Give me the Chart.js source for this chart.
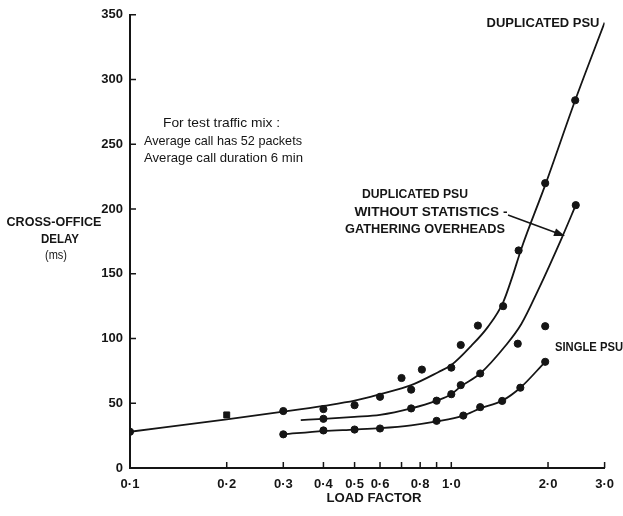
<!DOCTYPE html>
<html>
<head>
<meta charset="utf-8">
<script src="https://cdn.jsdelivr.net/npm/chart.js@4.4.0/dist/chart.umd.min.js"></script>
<style>
  html, body { margin: 0; padding: 0; background: #fff; }
  #wrap { position: relative; width: 623px; height: 516px; }
</style>
</head>
<body>
<div id="wrap"><canvas id="chart" width="623" height="516"></canvas></div>
<script>
// Valeurs
const xTicks = [0.1, 0.2, 0.3, 0.4, 0.5, 0.6, 0.7, 0.8, 0.9, 1.0, 2.0, 3.0];
const xTickLabels = ["0·1", "0·2", "0·3", "0·4", "0·5", "0·6", "", "0·8", "", "1·0", "2·0", "3·0"];
const yTicks = [0, 50, 100, 150, 200, 250, 300, 350];

// courbes tracées à la main
const dupCurveX = [0.1, 0.2, 0.3, 0.4, 0.5, 0.6, 0.75, 0.91, 1.0, 1.15, 1.3, 1.45, 1.55, 1.65, 1.97, 2.43, 3.0];
const dupCurveY = [28, 37.5, 43.5, 48, 52, 57, 64, 74, 79.5, 94, 109, 128, 148, 169, 220, 284, 344];
const statCurveX = [0.34, 0.4, 0.5, 0.6, 0.75, 0.9, 1.0, 1.07, 1.23, 1.47, 1.65, 1.86, 2.21, 2.44];
const statCurveY = [37, 38, 39.5, 41, 46, 52, 57, 63, 73, 94, 111, 137, 178, 203];
const singleCurveX = [0.3, 0.4, 0.5, 0.6, 0.75, 0.9, 1.09, 1.23, 1.44, 1.64, 1.96];
const singleCurveY = [26, 28.5, 29.7, 30.8, 33, 36, 40.5, 46, 52, 62, 82];

// points mesurés
const dupPtsX = [0.1, 0.2, 0.3, 0.4, 0.5, 0.6, 0.7, 0.75, 0.81, 1.0, 1.07, 1.21, 1.45, 1.62, 1.96, 2.43];
const dupPtsY = [28, 41, 44, 45.5, 48.5, 55, 69.5, 60.5, 76, 77.5, 95, 110, 125, 168, 220, 284];
const statPtsX = [0.4, 0.75, 0.9, 1.0, 1.07, 1.23, 1.61, 2.44];
const statPtsY = [38, 46, 52, 57, 64, 73, 96, 203];
const singlePtsX = [0.3, 0.4, 0.5, 0.6, 0.9, 1.09, 1.23, 1.44, 1.64, 1.96, 1.96];
const singlePtsY = [26, 29, 29.7, 30.5, 36.4, 40.5, 47, 51.8, 62, 82, 109.5];

const INK = "#151515";
const FONT = "'Liberation Sans', Arial, sans-serif";

function pts(xs, ys) {
  return xs.map((x, i) => ({ x: x, y: ys[i] }));
}

function curve(xs, ys) {
  return {
    type: "line",
    data: pts(xs, ys),
    borderColor: INK,
    borderWidth: 1.8,
    pointRadius: 0,
    fill: false,
    cubicInterpolationMode: "monotone"
  };
}

function dots(xs, ys) {
  return {
    type: "scatter",
    data: pts(xs, ys),
    backgroundColor: INK,
    borderColor: INK,
    pointRadius: c => (c.raw && c.raw.x === 0.2 ? 4.2 : 3.6),
    pointStyle: c => (c.raw && c.raw.x === 0.2 ? "rect" : "circle")
  };
}

// texte comprimé à la largeur voulue (police étroite de l'original)
function fitText(ctx, text, cx, cy, w) {
  const m = ctx.measureText(text).width;
  ctx.save();
  ctx.translate(cx, cy);
  ctx.scale(w / m, 1);
  ctx.textAlign = "center";
  ctx.fillText(text, 0, 0);
  ctx.restore();
}

// graduations tournées vers l'intérieur
const innerTicks = {
  id: "innerTicks",
  afterDraw(chart) {
    const ctx = chart.ctx;
    const sx = chart.scales.x, sy = chart.scales.y;
    ctx.save();
    ctx.strokeStyle = INK;
    ctx.lineWidth = 1.5;
    ctx.beginPath();
    xTicks.forEach(v => {
      const px = sx.getPixelForValue(v);
      ctx.moveTo(px, sy.bottom);
      ctx.lineTo(px, sy.bottom - 6);
    });
    yTicks.forEach(v => {
      const py = sy.getPixelForValue(v);
      ctx.moveTo(sx.left, py);
      ctx.lineTo(sx.left + 6, py);
    });
    ctx.stroke();
    ctx.restore();
  }
};

// Textes de la figure
const notes = {
  id: "notes",
  afterDraw(chart) {
    const ctx = chart.ctx;
    ctx.save();
    ctx.fillStyle = INK;
    ctx.textBaseline = "middle";

    ctx.font = "bold 13px " + FONT;
    fitText(ctx, "DUPLICATED PSU", 543, 23, 113);
    fitText(ctx, "DUPLICATED PSU", 415, 194, 106);
    fitText(ctx, "WITHOUT STATISTICS -", 431, 212, 153);
    fitText(ctx, "GATHERING OVERHEADS", 425, 229, 160);
    fitText(ctx, "SINGLE PSU", 589, 347, 68);
    fitText(ctx, "CROSS-OFFICE", 54, 222, 95);
    fitText(ctx, "DELAY", 60, 239, 38);
    fitText(ctx, "LOAD FACTOR", 374, 498, 95);

    ctx.font = "12px " + FONT;
    fitText(ctx, "(ms)", 56, 256, 22);
    ctx.font = "13px " + FONT;
    fitText(ctx, "For test traffic mix :", 221.5, 123, 117);
    fitText(ctx, "Average call has 52 packets", 223, 141, 158);
    fitText(ctx, "Average call duration 6 min", 223.5, 158, 159);

    // flèche vers la courbe du milieu
    const tx = 565, ty = 236, fx = 508, fy = 215;
    const a = Math.atan2(ty - fy, tx - fx);
    ctx.strokeStyle = INK;
    ctx.lineWidth = 1.5;
    ctx.beginPath();
    ctx.moveTo(fx, fy);
    ctx.lineTo(tx - 8 * Math.cos(a), ty - 8 * Math.sin(a));
    ctx.stroke();
    ctx.beginPath();
    ctx.moveTo(tx, ty);
    ctx.lineTo(tx - 11 * Math.cos(a) + 4 * Math.sin(a), ty - 11 * Math.sin(a) - 4 * Math.cos(a));
    ctx.lineTo(tx - 11 * Math.cos(a) - 4 * Math.sin(a), ty - 11 * Math.sin(a) + 4 * Math.cos(a));
    ctx.closePath();
    ctx.fill();
    ctx.restore();
  }
};

new Chart(document.getElementById("chart"), {
  data: {
    datasets: [
      dots(dupPtsX, dupPtsY),
      dots(statPtsX, statPtsY),
      dots(singlePtsX, singlePtsY),
      curve(dupCurveX, dupCurveY),
      curve(statCurveX, statCurveY),
      curve(singleCurveX, singleCurveY)
    ]
  },
  options: {
    responsive: false,
    animation: false,
    layout: { padding: { top: 12, right: 16, left: 0, bottom: 0 } },
    plugins: { legend: { display: false }, tooltip: { enabled: false } },
    scales: {
      x: {
        type: "logarithmic",
        min: 0.1,
        max: 3.0,
        afterBuildTicks: s => { s.ticks = xTicks.map(v => ({ value: v })); },
        afterFit: s => { s.height = 48; },
        border: { display: true, color: INK, width: 2 },
        grid: { display: false, drawOnChartArea: false, drawTicks: false },
        ticks: {
          autoSkip: false,
          maxRotation: 0,
          padding: 9,
          color: INK,
          font: { family: FONT, size: 13, weight: "bold" },
          callback: (v, i) => xTickLabels[i]
        }
      },
      y: {
        type: "linear",
        min: 0,
        max: 350,
        afterBuildTicks: s => { s.ticks = yTicks.map(v => ({ value: v })); },
        afterFit: s => { s.width = 130; },
        border: { display: true, color: INK, width: 2 },
        grid: { display: false, drawOnChartArea: false, drawTicks: false },
        ticks: {
          padding: 7,
          color: INK,
          font: { family: FONT, size: 13, weight: "bold" }
        }
      }
    }
  },
  plugins: [innerTicks, notes]
});
</script>
</body>
</html>
